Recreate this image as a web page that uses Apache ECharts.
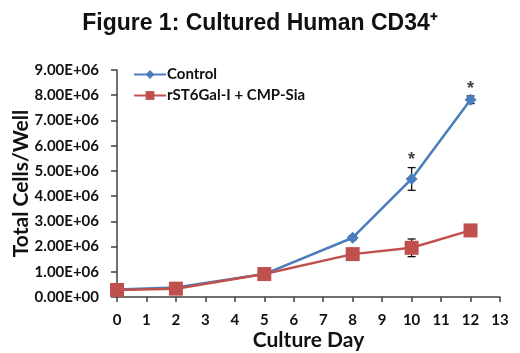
<!DOCTYPE html>
<html>
<head>
<meta charset="utf-8">
<script src="https://cdn.jsdelivr.net/npm/echarts@6/dist/echarts.min.js"></script>
<style>
  html, body { margin: 0; padding: 0; background: #fff; }
  #chart { width: 520px; height: 353px; }
</style>
</head>
<body>
<div id="chart"></div>
<script>
// days on the x axis
var days = [0, 2, 5, 8, 10, 12];
// mean cell counts per well
var control = [0.30e6, 0.38e6, 0.91e6, 2.35e6, 4.68e6, 7.82e6];
var treated = [0.28e6, 0.33e6, 0.91e6, 1.70e6, 1.95e6, 2.64e6];
// error bar half widths (0 = none drawn)
var controlErr = [0, 0, 0, 0.08e6, 0.45e6, 0.15e6];
var treatedErr = [0, 0, 0, 0, 0.35e6, 0];
// significance marks at these days
var starDays = [10, 12];
var starValues = [5.45e6, 8.25e6];

var blue = '#4a7ebb';
var red = '#c0504d';
var axisColor = '#404040';
var titleFont = 'Liberation Sans';
var font = 'Lato';

function pairs(xs, ys) {
  return xs.map(function (x, i) { return [x, ys[i]]; });
}

function errorSeries(vals, errs) {
  var data = [];
  for (var i = 0; i < days.length; i++) {
    if (errs[i] > 0) data.push([days[i], vals[i] - errs[i], vals[i] + errs[i]]);
  }
  return {
    type: 'custom',
    silent: true,
    z: 1,
    data: data,
    renderItem: function (params, api) {
      var lo = api.coord([api.value(0), api.value(1)]);
      var hi = api.coord([api.value(0), api.value(2)]);
      var w = 4;
      var style = { stroke: '#111', lineWidth: 1.3 };
      return {
        type: 'group',
        children: [
          { type: 'line', shape: { x1: lo[0], y1: lo[1], x2: hi[0], y2: hi[1] }, style: style },
          { type: 'line', shape: { x1: lo[0] - w, y1: lo[1], x2: lo[0] + w, y2: lo[1] }, style: style },
          { type: 'line', shape: { x1: hi[0] - w, y1: hi[1], x2: hi[0] + w, y2: hi[1] }, style: style }
        ]
      };
    }
  };
}

var chart = echarts.init(document.getElementById('chart'));
chart.setOption({
  animation: false,
  title: {
    text: 'Figure 1: Cultured Human CD34\u207A',
    left: 'center',
    top: 7,
    textStyle: { fontFamily: titleFont, fontSize: 23, fontWeight: 'bold', color: '#111' }
  },
  legend: {
    left: 128,
    top: 62,
    orient: 'vertical',
    itemGap: 6,
    itemWidth: 32,
    itemHeight: 11,
    data: ['Control', 'rST6Gal-I + CMP-Sia'],
    textStyle: { fontFamily: font, fontSize: 15, fontWeight: 'bold', color: '#111', padding: [0, 0, 0, -4] }
  },
  grid: { left: 117, right: 20, top: 70, bottom: 56, outerBoundsMode: 'none', containLabel: false },
  xAxis: {
    type: 'value',
    min: 0,
    max: 13,
    interval: 1,
    name: 'Culture Day',
    nameLocation: 'middle',
    nameGap: 33,
    nameMoveOverlap: false,
    nameTextStyle: { fontFamily: font, fontSize: 21, fontWeight: 'bold', color: '#111' },
    axisLine: { lineStyle: { color: axisColor, width: 1.5 } },
    axisTick: { length: 5, lineStyle: { color: axisColor, width: 1.5 } },
    axisLabel: { fontFamily: font, fontSize: 15, fontWeight: 'bold', color: '#111', margin: 16 },
    splitLine: { show: false }
  },
  yAxis: {
    type: 'value',
    min: 0,
    max: 9e6,
    interval: 1e6,
    name: 'Total Cells/Well',
    nameLocation: 'middle',
    nameGap: 85,
    nameMoveOverlap: false,
    nameTextStyle: { fontFamily: font, fontSize: 21, fontWeight: 'bold', color: '#111' },
    axisLine: { show: true, lineStyle: { color: axisColor, width: 1.5 } },
    axisTick: { show: true, length: 6, lineStyle: { color: axisColor, width: 1.5 } },
    axisLabel: {
      fontFamily: font, fontSize: 15, fontWeight: 'bold', color: '#111', margin: 18,
      formatter: function (v) {
        return v === 0 ? '0.00E+00' : (v / 1e6).toFixed(2) + 'E+06';
      }
    },
    splitLine: { show: false }
  },
  series: [
    {
      name: 'Control',
      type: 'line',
      z: 3,
      data: pairs(days, control),
      symbol: 'diamond',
      symbolSize: 12,
      color: blue,
      lineStyle: { width: 2.5, color: blue },
      itemStyle: { color: blue }
    },
    {
      name: 'rST6Gal-I + CMP-Sia',
      type: 'line',
      z: 4,
      data: pairs(days, treated),
      symbol: 'rect',
      symbolSize: 14,
      color: red,
      lineStyle: { width: 2.5, color: red },
      itemStyle: { color: red }
    },
    errorSeries(control, controlErr),
    errorSeries(treated, treatedErr),
    {
      type: 'scatter',
      silent: true,
      symbolSize: 0,
      data: pairs(starDays, starValues),
      label: {
        show: true,
        position: 'inside',
        formatter: '*',
        fontFamily: titleFont,
        fontSize: 18,
        fontWeight: 'bold',
        color: '#111'
      }
    }
  ]
});
</script>
</body>
</html>
